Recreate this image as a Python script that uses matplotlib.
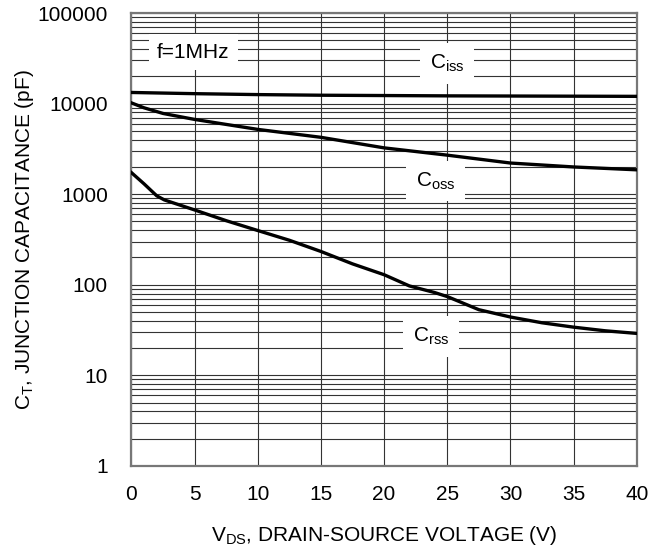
import matplotlib
matplotlib.use("Agg")
import matplotlib.pyplot as plt
from matplotlib.ticker import LogLocator, NullFormatter

plt.rcParams['font.family'] = ['Liberation Sans', 'DejaVu Sans']
plt.rcParams['mathtext.default'] = 'regular'

# capacitance vs drain-source voltage
vds_ciss = [0, 5, 10, 15, 20, 25, 30, 35, 40]
ciss = [13300, 12900, 12600, 12400, 12300, 12200, 12150, 12100, 12050]

vds_coss = [0, 1, 2.5, 5, 7.5, 10, 15, 20, 25, 30, 35, 40]
coss = [10200, 9000, 7800, 6700, 5900, 5200, 4250, 3250, 2700, 2210, 2000, 1860]

vds_crss = [0, 1, 2, 2.6, 5, 7.5, 10, 12.5, 15, 17.5, 20, 22, 24, 25, 27.5, 30, 32.5, 35, 37.5, 40]
crss = [1730, 1300, 960, 865, 670, 510, 397, 310, 233, 170, 129, 97, 82, 74, 53, 44, 38, 34, 31, 29]

xticks = [0, 5, 10, 15, 20, 25, 30, 35, 40]
yticks = [1, 10, 100, 1000, 10000, 100000]
ytick_labels = ["1", "10", "100", "1000", "10000", "100000"]

FS = 15

fig = plt.figure(figsize=(6.64, 5.48), dpi=100)
ax = fig.add_axes([0.198, 0.150, 0.761, 0.826])

ax.set_yscale('log')
ax.set_xlim(0, 40)
ax.set_ylim(1, 100000)

ax.plot(vds_ciss, ciss, color='black', lw=2.4, zorder=3)
ax.plot(vds_coss, coss, color='black', lw=2.4, zorder=3)
ax.plot(vds_crss, crss, color='black', lw=2.4, zorder=3)

ax.set_xticks(xticks)
ax.set_yticks(yticks)
ax.set_yticklabels(ytick_labels)
ax.yaxis.set_minor_locator(LogLocator(base=10, subs=range(2, 10), numticks=20))
ax.yaxis.set_minor_formatter(NullFormatter())
ax.tick_params(which='both', length=0, labelsize=FS)
ax.tick_params(axis='y', pad=17)
ax.tick_params(axis='x', pad=14)

ax.grid(True, which='major', color='#333333', lw=0.8)
ax.grid(True, which='minor', axis='y', color='#333333', lw=0.8)
for s in ax.spines.values():
    s.set_color('#777777')
    s.set_linewidth(1.6)

box = dict(facecolor='white', edgecolor='none', pad=7)
ax.text(4.9, 37000, "f=1MHz", fontsize=FS, ha='center', va='center',
        bbox=dict(facecolor='white', edgecolor='none', pad=6), zorder=4)
ax.text(25.0, 28000, "C$_{iss}$", fontsize=FS, ha='center', va='center', bbox=box, zorder=4)
ax.text(24.1, 1400, "C$_{oss}$", fontsize=FS, ha='center', va='center', bbox=box, zorder=4)
ax.text(23.7, 27, "C$_{rss}$", fontsize=FS, ha='center', va='center', bbox=box, zorder=4)

ax.set_xlabel("V$_{DS}$, DRAIN-SOURCE VOLTAGE (V)", fontsize=FS, labelpad=14)
ax.set_ylabel("C$_T$, JUNCTION CAPACITANCE (pF)", fontsize=FS, labelpad=1)

fig.savefig("out.png", dpi=100)
